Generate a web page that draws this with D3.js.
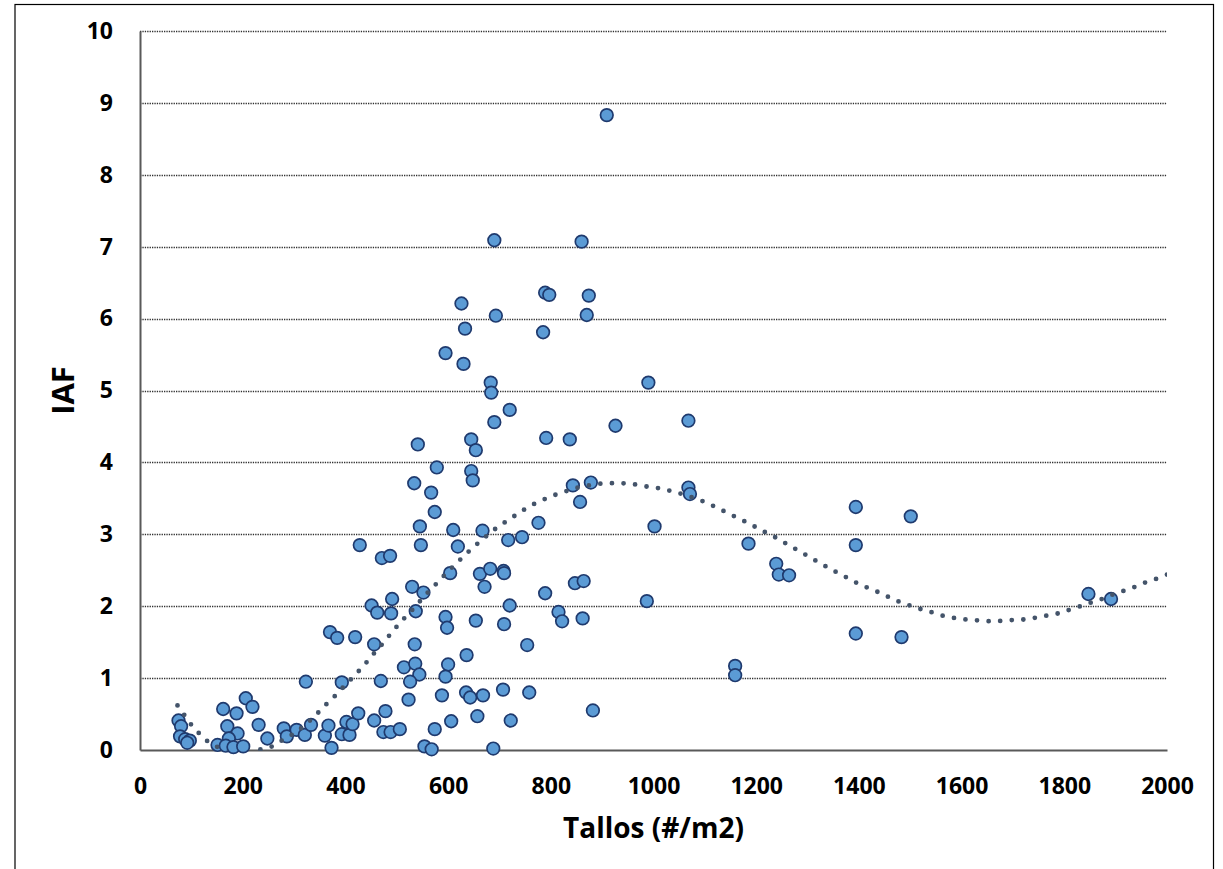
<!DOCTYPE html>
<html>
<head>
<meta charset="utf-8">
<script src="https://cdn.jsdelivr.net/npm/d3@7"></script>
<style>
  html, body { margin: 0; padding: 0; background: #ffffff; }
  svg { display: block; }
  text { font-family: "Open Sans", Lato, "DejaVu Sans", sans-serif; font-weight: 700; fill: #000; }
</style>
</head>
<body>
<svg id="chart" width="1223" height="869"></svg>
<script>
// ---- Data ----
const tallos = [
  75, 80, 78, 88, 97, 92, 151, 162, 170, 190, 173, 167, 182, 201, 188, 206, 219, 231, 248, 280,
  286, 305, 321, 323, 333, 360, 367, 373, 393, 393, 408, 402, 414, 425, 456, 469, 478, 474, 488,
  428, 370, 384, 419, 456, 451, 462, 471, 487,
  541, 645, 654, 791, 837, 578, 534, 567, 645, 648, 574, 545, 610, 667, 547, 619, 717, 744, 776,
  843, 878, 857, 1002, 604, 662, 682, 708, 709, 671, 530, 552, 491, 489, 537, 595, 598, 654, 709,
  720, 789, 847, 864, 815, 822, 862, 987, 754, 535, 636, 514, 536, 544, 526, 600, 595, 523, 588,
  635, 643, 668, 707, 758, 606, 657, 722, 882, 574, 506, 554, 568, 688,
  690, 626, 789, 797, 693, 633, 785, 595, 630, 683, 684, 720, 690,
  860, 874, 870, 990, 926, 1068, 1068, 1071, 1394, 909,
  1501, 1185, 1394, 1239, 1244, 1264, 1394, 1483, 1159, 1159, 1847, 1891
];
const iaf = [
  0.41, 0.33, 0.19, 0.15, 0.13, 0.10, 0.07, 0.57, 0.33, 0.23, 0.16, 0.06, 0.04, 0.05, 0.51, 0.72, 0.60, 0.35, 0.16, 0.30,
  0.19, 0.28, 0.21, 0.95, 0.35, 0.20, 0.34, 0.03, 0.94, 0.22, 0.21, 0.39, 0.36, 0.51, 0.41, 0.96, 0.54, 0.25, 0.25,
  2.85, 1.64, 1.56, 1.57, 1.47, 2.01, 1.91, 2.67, 2.70,
  4.25, 4.32, 4.17, 4.34, 4.32, 3.93, 3.71, 3.58, 3.88, 3.75, 3.31, 3.11, 3.06, 3.05, 2.85, 2.83, 2.92, 2.96, 3.16,
  3.68, 3.72, 3.45, 3.11, 2.46, 2.45, 2.52, 2.49, 2.46, 2.27, 2.27, 2.19, 2.10, 1.90, 1.93, 1.85, 1.70, 1.80, 1.75,
  2.01, 2.18, 2.32, 2.35, 1.92, 1.79, 1.83, 2.07, 1.46, 1.47, 1.32, 1.15, 1.20, 1.05, 0.95, 1.19, 1.02, 0.70, 0.76,
  0.80, 0.73, 0.76, 0.84, 0.80, 0.40, 0.47, 0.41, 0.55, 0.29, 0.29, 0.05, 0.01, 0.02,
  7.09, 6.21, 6.36, 6.33, 6.04, 5.86, 5.81, 5.52, 5.37, 5.11, 4.97, 4.73, 4.56,
  7.07, 6.32, 6.05, 5.11, 4.51, 4.58, 3.65, 3.56, 3.38, 8.83,
  3.25, 2.87, 2.85, 2.59, 2.44, 2.43, 1.62, 1.57, 1.17, 1.04, 2.17, 2.10
];
// Trendline (polynomial, dotted)
const trendX = [73, 86, 99, 114, 130, 149, 170, 192, 214, 235, 257, 276, 295, 313, 331, 347, 362, 378, 394, 409,
  425, 440, 454, 469, 484, 498, 513, 529, 544, 559, 574, 590, 605, 621, 637, 654, 672, 689, 707, 726, 745, 764,
  785, 805, 826, 847, 868, 890, 913, 936, 958, 981, 1003, 1024, 1046, 1068, 1089, 1109, 1129, 1149, 1169, 1189,
  1209, 1229, 1249, 1268, 1288, 1307, 1327, 1346, 1366, 1386, 1406, 1426, 1446, 1466, 1487, 1508, 1529, 1550,
  1572, 1594, 1615, 1638, 1661, 1683, 1706, 1728, 1751, 1773, 1794, 1814, 1836, 1856, 1877, 1897, 1918, 1938,
  1958, 1979, 2000];
const trendY = [0.62, 0.49, 0.36, 0.24, 0.13, 0.05, -0.04, -0.08, -0.05, 0.01, 0.05, 0.13, 0.21, 0.30, 0.41, 0.52,
  0.63, 0.74, 0.86, 0.97, 1.09, 1.21, 1.33, 1.45, 1.58, 1.70, 1.82, 1.94, 2.06, 2.18, 2.29, 2.41, 2.52, 2.63, 2.74,
  2.85, 2.96, 3.06, 3.15, 3.24, 3.33, 3.41, 3.48, 3.54, 3.59, 3.64, 3.67, 3.70, 3.71, 3.71, 3.70, 3.67, 3.65, 3.62,
  3.58, 3.53, 3.48, 3.42, 3.35, 3.28, 3.21, 3.14, 3.06, 2.99, 2.91, 2.83, 2.75, 2.67, 2.59, 2.51, 2.44, 2.36, 2.29,
  2.23, 2.17, 2.10, 2.04, 1.99, 1.94, 1.90, 1.85, 1.83, 1.81, 1.80, 1.79, 1.80, 1.81, 1.82, 1.85, 1.88, 1.91, 1.96,
  2.01, 2.06, 2.11, 2.17, 2.22, 2.27, 2.33, 2.38, 2.44];
const xTicks = [0, 200, 400, 600, 800, 1000, 1200, 1400, 1600, 1800, 2000];
const yTicks = [0, 1, 2, 3, 4, 5, 6, 7, 8, 9, 10];
const xTitle = "Tallos (#/m2)";
const yTitle = "IAF";

// ---- Layout ----
const svg = d3.select("#chart");
const L = 140, R = 1167, T = 31, B = 750;
const x = d3.scaleLinear().domain([0, 2000]).range([L, R]);
const y = d3.scaleLinear().domain([0, 10]).range([B, T]);
const FONT = "'Open Sans', Lato, sans-serif";

// outer frame
svg.append("rect").attr("x", 15).attr("y", 4.5).attr("width", 1198.5).attr("height", 900)
  .attr("fill", "none").attr("stroke", "#000").attr("stroke-width", 1.2);

// gridlines
svg.append("g").selectAll("line").data(yTicks.filter(d => d > 0)).join("line")
  .attr("x1", L).attr("x2", R)
  .attr("y1", d => Math.round(y(d)) + 0.5).attr("y2", d => Math.round(y(d)) + 0.5)
  .attr("stroke", "#303030").attr("stroke-width", 1.3).attr("stroke-dasharray", "1.3,1.1");

// axes via d3 axis generators (no tick marks)
const gx = svg.append("g").attr("transform", `translate(0,${B})`)
  .call(d3.axisBottom(x).tickValues(xTicks).tickSize(0).tickPadding(28).tickFormat(d3.format("d")));
gx.select(".domain").attr("stroke", "#595959").attr("stroke-width", 2);
gx.selectAll("text").style("font-size", "23px").style("font-family", FONT).style("font-weight", 700).attr("fill", "#000");

const gy = svg.append("g").attr("transform", `translate(${L},0)`)
  .call(d3.axisLeft(y).tickValues(yTicks).tickSize(0).tickPadding(27).tickFormat(d3.format("d")));
gy.select(".domain").attr("stroke", "#595959").attr("stroke-width", 2);
gy.selectAll("text").style("font-size", "23px").style("font-family", FONT).style("font-weight", 700).attr("fill", "#000");

// clip for trendline
svg.append("clipPath").attr("id", "plotclip").append("rect")
  .attr("x", L).attr("y", T).attr("width", R - L).attr("height", B - T + 1);

// points
const pts = tallos.map((v, i) => ({ x: v, y: iaf[i] }));
svg.append("g").selectAll("circle").data(pts).join("circle")
  .attr("cx", d => x(d.x)).attr("cy", d => y(d.y)).attr("r", 6.3)
  .attr("fill", "#5B9BD5").attr("stroke", "#1F3A6E").attr("stroke-width", 1.7);

// trendline
const trend = trendX.map((v, i) => [v, trendY[i]]);
svg.append("path").datum(trend)
  .attr("clip-path", "url(#plotclip)")
  .attr("d", d3.line().x(d => x(d[0])).y(d => y(d[1])).curve(d3.curveCatmullRom))
  .attr("fill", "none").attr("stroke", "#44546A").attr("stroke-width", 4.8)
  .attr("stroke-linecap", "round").attr("stroke-dasharray", "0,11.6");

// axis titles
svg.append("text").attr("x", (L + R) / 2).attr("y", 838).attr("text-anchor", "middle")
  .style("font-size", "28px").style("font-family", FONT).text(xTitle);
svg.append("text").attr("transform", `translate(74,${(T + B) / 2}) rotate(-90)`).attr("text-anchor", "middle")
  .style("font-size", "31px").style("font-family", FONT).text(yTitle);
</script>
</body>
</html>
